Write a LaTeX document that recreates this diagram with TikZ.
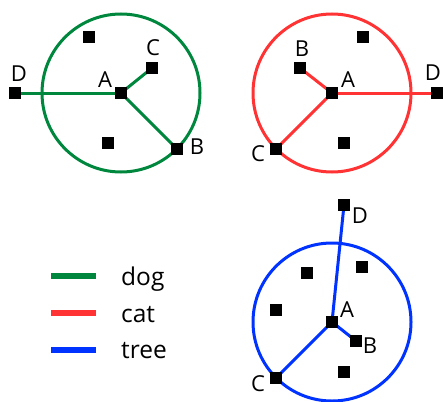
\documentclass[tikz,border=0pt]{standalone}
\usepackage{fontspec}
\setmainfont{Open Sans}
\definecolor{dogc}{RGB}{0,135,62}
\definecolor{catc}{RGB}{255,51,51}
\definecolor{treec}{RGB}{0,51,255}
\tikzset{
  pt/.style={fill=black, minimum size=12pt, inner sep=0pt, outer sep=0pt},
  lbl/.style={font=\fontsize{22}{22}\selectfont, inner sep=0pt},
  edge/.style={line width=3pt},
  ring/.style={line width=3pt},
  leg/.style={line width=6pt},
  legtxt/.style={font=\fontsize{24.5}{24.5}\selectfont, inner sep=0pt, anchor=base west}
}
\begin{document}
\begin{tikzpicture}[x=1pt,y=-1pt]
\useasboundingbox (0,0) rectangle (443,401);
% ---------- dog panel ----------
\draw[ring, dogc] (121,93) circle (79);
\node[pt] (gA) at (121,93) {};
\node[pt] (gB) at (177,149) {};
\node[pt] (gC) at (152,68) {};
\node[pt] (gD) at (15,93) {};
\node[pt] (g1) at (89,37) {};
\node[pt] (g2) at (108,143) {};
\draw[edge, dogc] (gA.center) -- (gD.center);
\draw[edge, dogc] (gA.center) -- (gC.center);
\draw[edge, dogc] (gA.center) -- (gB.center);
\node[pt] at (gA) {};\node[pt] at (gB) {};\node[pt] at (gC) {};\node[pt] at (gD) {};
\node[lbl] (lgA) at (105,80) {A};
\node[lbl] (lgB) at (197,147) {B};
\node[lbl] (lgC) at (153,48) {C};
\node[lbl] (lgD) at (19,74) {D};
% ---------- cat panel ----------
\draw[ring, catc] (332,93) circle (79);
\node[pt] (rA) at (332,93) {};
\node[pt] (rB) at (300,68) {};
\node[pt] (rC) at (276,149) {};
\node[pt] (rD) at (437,93) {};
\node[pt] (r1) at (363,37) {};
\node[pt] (r2) at (344,143) {};
\draw[edge, catc] (rA.center) -- (rD.center);
\draw[edge, catc] (rA.center) -- (rB.center);
\draw[edge, catc] (rA.center) -- (rC.center);
\node[pt] at (rA) {};\node[pt] at (rB) {};\node[pt] at (rC) {};\node[pt] at (rD) {};
\node[lbl] (lrA) at (348,80) {A};
\node[lbl] (lrB) at (302,49) {B};
\node[lbl] (lrC) at (258,154) {C};
\node[lbl] (lrD) at (433,73) {D};
% ---------- tree panel ----------
\draw[ring, treec] (332,322) circle (79);
\node[pt] (tA) at (332,322) {};
\node[pt] (tB) at (356,341) {};
\node[pt] (tC) at (276,378) {};
\node[pt] (tD) at (344,205) {};
\node[pt] (t1) at (307,273) {};
\node[pt] (t2) at (362,267) {};
\node[pt] (t3) at (276,310) {};
\node[pt] (t4) at (344,372) {};
\draw[edge, treec] (tA.center) -- (tD.center);
\draw[edge, treec] (tA.center) -- (tB.center);
\draw[edge, treec] (tA.center) -- (tC.center);
\node[pt] at (tA) {};\node[pt] at (tB) {};\node[pt] at (tC) {};\node[pt] at (tD) {};
\node[lbl] (ltA) at (347,310) {A};
\node[lbl] (ltB) at (370,346) {B};
\node[lbl] (ltC) at (258,384) {C};
\node[lbl] (ltD) at (360,216) {D};
% ---------- legend ----------
\coordinate (l1a) at (51,276); \coordinate (l1b) at (96,276);
\coordinate (l2a) at (51,313); \coordinate (l2b) at (96,313);
\coordinate (l3a) at (51,350); \coordinate (l3b) at (96,350);
\draw[leg, dogc] (l1a) -- (l1b);
\draw[leg, catc] (l2a) -- (l2b);
\draw[leg, treec] (l3a) -- (l3b);
\node[legtxt] (tdog) at (121,285) {dog};
\node[legtxt] (tcat) at (121,322) {cat};
\node[legtxt] (ttree) at (121,358) {tree};
\end{tikzpicture}
\end{document}
